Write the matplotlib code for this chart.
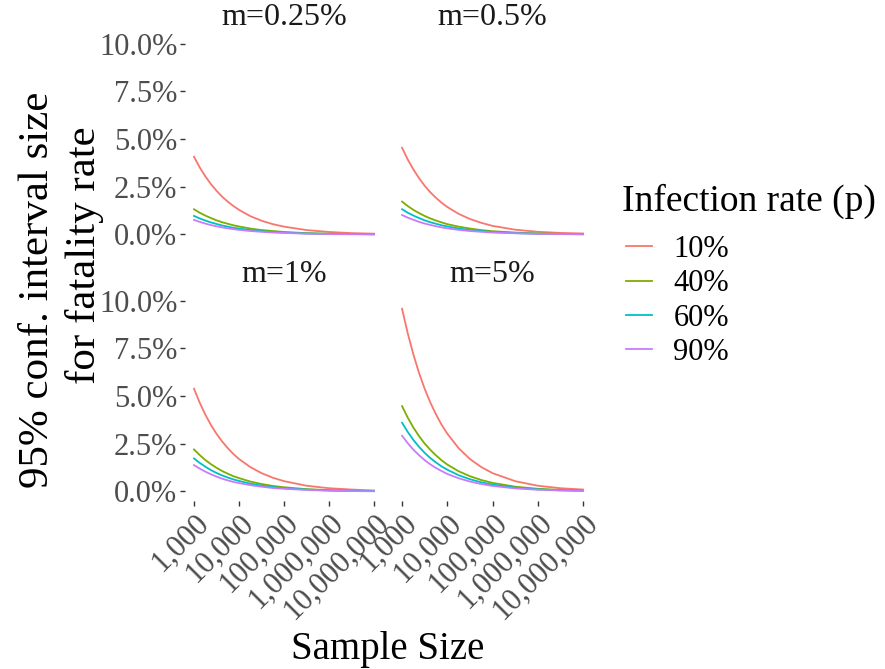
import matplotlib.pyplot as plt
from matplotlib.lines import Line2D

plt.rcParams['font.family'] = ['Liberation Serif', 'DejaVu Serif']

# sample sizes on the x axis
sizes = [1000, 1334, 1778, 2371, 3162, 4217, 5623, 7499, 10000, 17783, 31623,
         56234, 100000, 316228, 1000000, 3162278, 10000000]

# infection rates (legend)
rates = ['10%', '40%', '60%', '90%']
colors = ['#F8766D', '#7CAE00', '#00BFC4', '#C77CFF']

# CI size in %, one list per infection rate
m025 = [
    [4.07, 3.52, 3.05, 2.64, 2.29, 1.98, 1.72, 1.49, 1.29, 0.96, 0.72, 0.54, 0.41, 0.23, 0.13, 0.07, 0.04],
    [1.32, 1.14, 0.99, 0.86, 0.74, 0.64, 0.56, 0.48, 0.42, 0.31, 0.23, 0.18, 0.13, 0.07, 0.04, 0.02, 0.01],
    [0.97, 0.84, 0.73, 0.63, 0.55, 0.47, 0.41, 0.35, 0.31, 0.23, 0.17, 0.13, 0.10, 0.05, 0.03, 0.02, 0.01],
    [0.76, 0.66, 0.57, 0.49, 0.43, 0.37, 0.32, 0.28, 0.24, 0.18, 0.14, 0.10, 0.08, 0.04, 0.02, 0.01, 0.01],
]
m05 = [
    [4.54, 3.93, 3.41, 2.95, 2.55, 2.21, 1.92, 1.66, 1.44, 1.08, 0.81, 0.61, 0.45, 0.25, 0.14, 0.08, 0.05],
    [1.72, 1.49, 1.29, 1.12, 0.97, 0.84, 0.73, 0.63, 0.54, 0.41, 0.31, 0.23, 0.17, 0.10, 0.05, 0.03, 0.02],
    [1.32, 1.14, 0.99, 0.86, 0.74, 0.64, 0.56, 0.48, 0.42, 0.31, 0.23, 0.18, 0.13, 0.07, 0.04, 0.02, 0.01],
    [1.02, 0.88, 0.77, 0.66, 0.57, 0.50, 0.43, 0.37, 0.32, 0.24, 0.18, 0.14, 0.10, 0.06, 0.03, 0.02, 0.01],
]
m1 = [
    [5.38, 4.66, 4.03, 3.49, 3.02, 2.62, 2.27, 1.96, 1.70, 1.28, 0.96, 0.72, 0.54, 0.30, 0.17, 0.10, 0.05],
    [2.20, 1.91, 1.65, 1.43, 1.24, 1.07, 0.93, 0.80, 0.70, 0.52, 0.39, 0.29, 0.22, 0.12, 0.07, 0.04, 0.02],
    [1.73, 1.50, 1.30, 1.12, 0.97, 0.84, 0.73, 0.63, 0.55, 0.41, 0.31, 0.23, 0.17, 0.10, 0.05, 0.03, 0.02],
    [1.38, 1.20, 1.04, 0.90, 0.78, 0.67, 0.58, 0.50, 0.44, 0.33, 0.25, 0.18, 0.14, 0.08, 0.04, 0.02, 0.01],
]
m5 = [
    [9.57, 8.29, 7.18, 6.21, 5.38, 4.66, 4.04, 3.49, 3.03, 2.27, 1.70, 1.28, 0.96, 0.54, 0.30, 0.17, 0.10],
    [4.47, 3.87, 3.35, 2.90, 2.51, 2.18, 1.89, 1.63, 1.41, 1.06, 0.80, 0.60, 0.45, 0.25, 0.14, 0.08, 0.04],
    [3.60, 3.12, 2.70, 2.34, 2.02, 1.75, 1.52, 1.31, 1.14, 0.85, 0.64, 0.48, 0.36, 0.20, 0.11, 0.06, 0.04],
    [2.92, 2.53, 2.19, 1.90, 1.64, 1.42, 1.23, 1.07, 0.92, 0.69, 0.52, 0.39, 0.29, 0.16, 0.09, 0.05, 0.03],
]

facet_names = ['m=0.25%', 'm=0.5%', 'm=1%', 'm=5%']
facet_data = [m025, m05, m1, m5]

x_ticks = [1000, 10000, 100000, 1000000, 10000000]
x_labels = ['1,000', '10,000', '100,000', '1,000,000', '10,000,000']
y_ticks = [0, 2.5, 5, 7.5, 10]
y_labels = ['0.0%', '2.5%', '5.0%', '7.5%', '10.0%']

W, H = 885, 669
fig = plt.figure(figsize=(W / 100, H / 100), dpi=100)

# panel boxes in pixels: left, top, right, bottom
boxes = [(185, 34, 383, 244), (393, 34, 592, 244),
         (185, 291, 383, 501), (393, 291, 592, 501)]

tick_col = '#4D4D4D'
for i, (name, data) in enumerate(zip(facet_names, facet_data)):
    l, t, r, b = boxes[i]
    ax = fig.add_axes([l / W, 1 - b / H, (r - l) / W, (b - t) / H])
    for vals, c in zip(data, colors):
        ax.plot(sizes, vals, color=c, lw=1.3)
    ax.set_xscale('log')
    ax.set_xlim(10 ** 2.8, 10 ** 7.2)
    ax.set_ylim(-0.5, 10.5)
    for s in ax.spines.values():
        s.set_visible(False)
    ax.set_xticks(x_ticks)
    ax.minorticks_off()
    ax.set_yticks(y_ticks)
    ax.tick_params(length=3.5, width=1.0, color='#333333', labelsize=22,
                   labelcolor=tick_col, pad=2)
    if i >= 2:
        ax.set_xticklabels(x_labels, rotation=45, ha='right', va='top',
                           rotation_mode='anchor')
    else:
        ax.tick_params(axis='x', length=0, labelbottom=False)
    if i % 2 == 0:
        ax.set_yticklabels(y_labels)
    else:
        ax.tick_params(axis='y', length=0, labelleft=False)
    ax.text(0.5, 1.01, name, transform=ax.transAxes, ha='center', va='bottom',
            fontsize=23, color='#1A1A1A')

# axis titles
fig.text(38 / W, 1 - 290 / H, '95% conf. interval size', rotation=90,
         ha='center', va='center', fontsize=31)
fig.text(85 / W, 1 - 255 / H, 'for fatality rate', rotation=90,
         ha='center', va='center', fontsize=31)
fig.text(388 / W, 1 - 650 / H, 'Sample Size', ha='center', va='center',
         fontsize=28)

# legend
fig.text(622 / W, 1 - 201 / H, 'Infection rate (p)', ha='left', va='center',
         fontsize=27)
handles = [Line2D([], [], color=c, lw=1.3) for c in colors]
leg = fig.legend(handles, rates, loc='upper left',
                 bbox_to_anchor=(620 / W, 1 - 229 / H), frameon=False,
                 fontsize=22, handlelength=0.85, handletextpad=0.7,
                 labelspacing=0.17, borderaxespad=0, borderpad=0.2)

fig.savefig('out.png', dpi=100)
